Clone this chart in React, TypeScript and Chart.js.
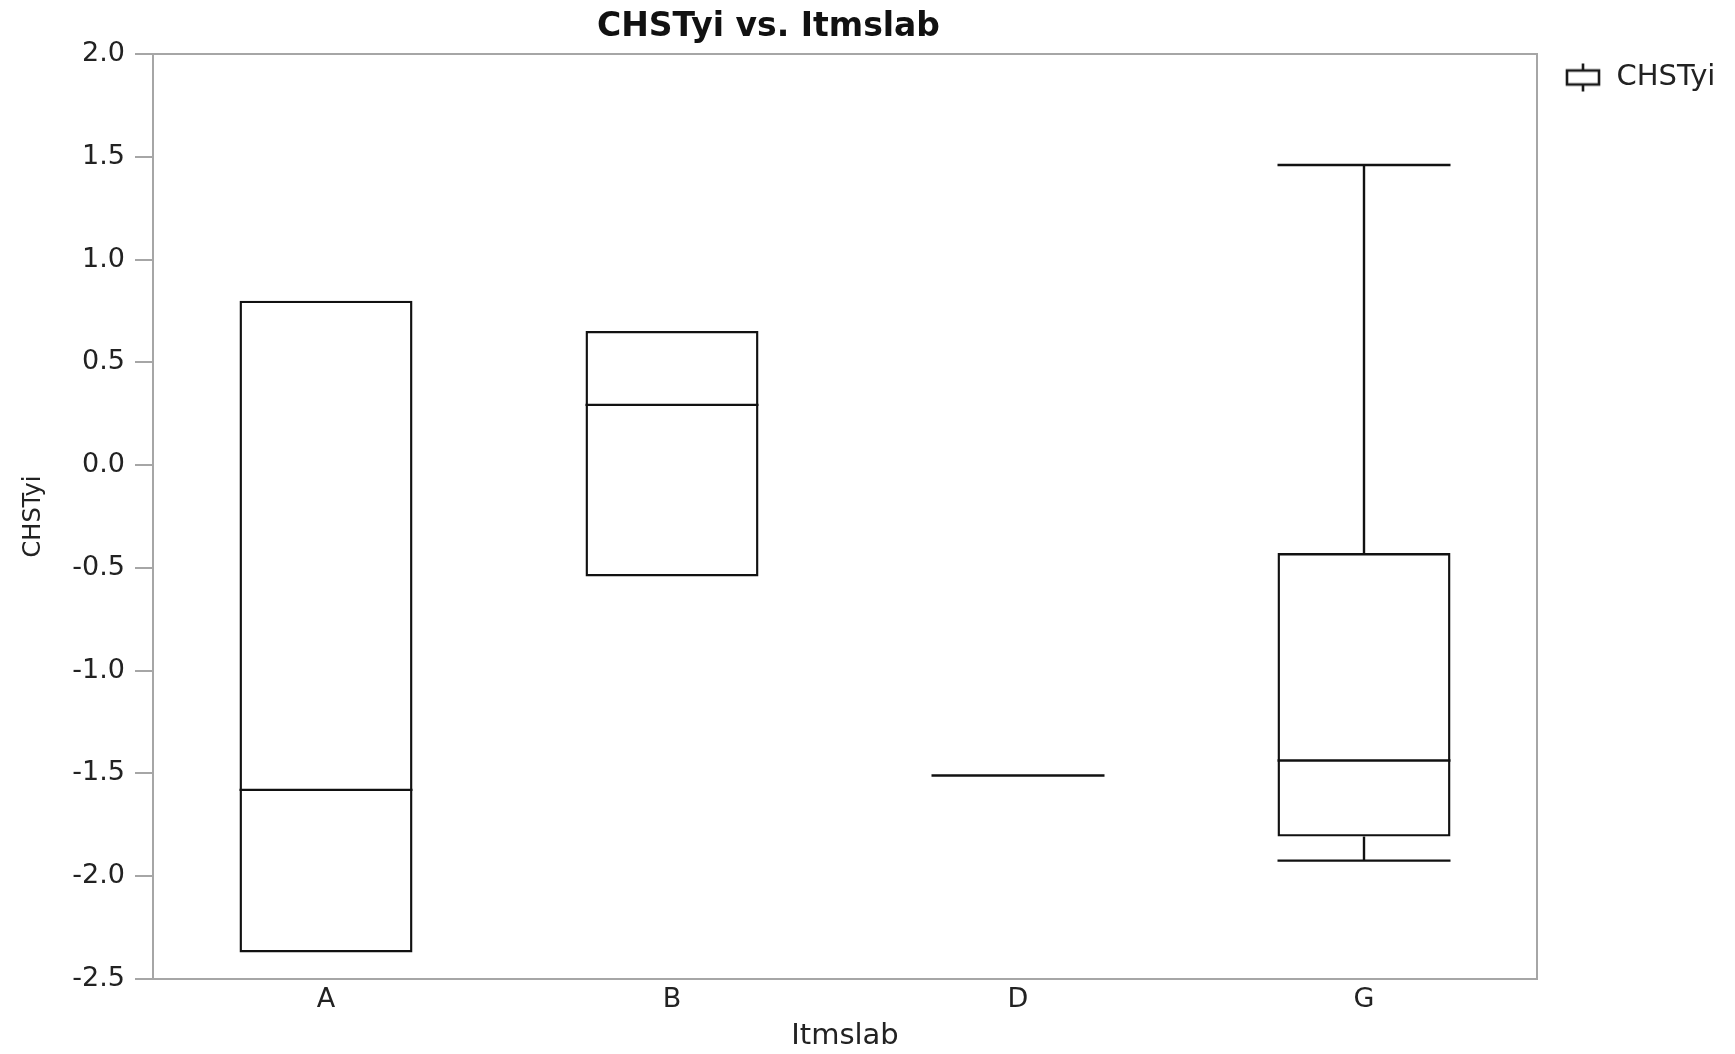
import React, { useEffect, useRef } from "react";
import { Chart, registerables } from "chart.js";

Chart.register(...registerables);

// ---- data ----
const categories = ["A", "B", "D", "G"];
const q1Values = [-2.371, -0.542, -1.51, -1.807];
const medianValues = [-1.58, 0.293, -1.51, -1.437];
const q3Values = [0.8, 0.653, -1.51, -0.428];
const whiskerLowValues = [-2.371, -0.542, -1.51, -1.924];
const whiskerHighValues = [0.8, 0.653, -1.51, 1.46];

const seriesName = "CHSTyi";
const chartTitle = "CHSTyi vs. Itmslab";
const xAxisTitle = "Itmslab";
const yAxisTitle = "CHSTyi";
const yMin = -2.5;
const yMax = 2.0;
const yStep = 0.5;

// ---- styles ----
const W = 1735;
const H = 1054;
const FONT = '"DejaVu Sans"';
const AXIS_COLOR = "#a6a6a6";
const BOX_COLOR = "#111111";
const TEXT_COLOR = "#222222";
const LINE_W = 2.4;
const LEGEND_FONT_SIZE = 29;
const LEGEND_PAD = 9;
const LEGEND_BOX_W = 56;
const PLOT_RIGHT = 1537;

function makeLegendIcon(): HTMLCanvasElement {
  const c = document.createElement("canvas");
  c.width = 60;
  c.height = 34;
  const g = c.getContext("2d")!;
  g.strokeStyle = "#1a1a1a";
  g.lineWidth = 2.6;
  const cx = 39;
  const cy = 17;
  g.strokeRect(cx - 16, cy - 7, 32, 14);
  g.beginPath();
  g.moveTo(cx, cy - 7);
  g.lineTo(cx, cy - 14);
  g.moveTo(cx, cy + 7);
  g.lineTo(cx, cy + 14);
  g.stroke();
  return c;
}

const boxPlotPlugin = {
  id: "boxPlotExtras",
  beforeDatasetsDraw(chart: any) {
    const { ctx, chartArea } = chart;
    ctx.save();
    ctx.strokeStyle = AXIS_COLOR;
    ctx.lineWidth = 2;
    ctx.beginPath();
    ctx.moveTo(chartArea.left, chartArea.top);
    ctx.lineTo(chartArea.right, chartArea.top);
    ctx.lineTo(chartArea.right, chartArea.bottom);
    ctx.stroke();
    ctx.restore();
  },
  afterDatasetsDraw(chart: any) {
    const { ctx } = chart;
    const xs = chart.scales.x;
    const ys = chart.scales.y;
    const spacing = xs.getPixelForValue(1) - xs.getPixelForValue(0);
    const half = spacing * 0.25;
    ctx.save();
    ctx.strokeStyle = BOX_COLOR;
    ctx.lineWidth = LINE_W;
    categories.forEach((_, i) => {
      const cx = xs.getPixelForValue(i);
      const hLine = (v: number) => {
        const y = ys.getPixelForValue(v);
        ctx.beginPath();
        ctx.moveTo(cx - half, y);
        ctx.lineTo(cx + half, y);
        ctx.stroke();
      };
      const vLine = (a: number, b: number) => {
        ctx.beginPath();
        ctx.moveTo(cx, ys.getPixelForValue(a));
        ctx.lineTo(cx, ys.getPixelForValue(b));
        ctx.stroke();
      };
      hLine(medianValues[i]);
      if (whiskerHighValues[i] > q3Values[i]) {
        vLine(q3Values[i], whiskerHighValues[i]);
        hLine(whiskerHighValues[i]);
      }
      if (whiskerLowValues[i] < q1Values[i]) {
        vLine(q1Values[i], whiskerLowValues[i]);
        hLine(whiskerLowValues[i]);
      }
    });
    ctx.restore();
  },
  afterDraw(chart: any) {
    const { ctx, chartArea } = chart;
    ctx.save();
    ctx.font = `bold 33px ${FONT}`;
    ctx.fillStyle = "#111";
    ctx.textAlign = "center";
    ctx.textBaseline = "middle";
    const left = chart.scales.y.left;
    ctx.fillText(chartTitle, (left + chartArea.right) / 2, chartArea.top / 2);
    ctx.restore();
  },
};

export default function App() {
  const ref = useRef<HTMLCanvasElement | null>(null);

  useEffect(() => {
    document.body.style.margin = "0";
    document.body.style.overflow = "hidden";
    const canvas = ref.current;
    if (!canvas) return;

    const m = document.createElement("canvas").getContext("2d")!;
    m.font = `${LEGEND_FONT_SIZE}px ${FONT}`;
    const tw = m.measureText(seriesName).width;
    const legendWidth = LEGEND_PAD + LEGEND_BOX_W + LEGEND_FONT_SIZE / 2 + tw + 10;
    const padRight = Math.max(0, W - PLOT_RIGHT - legendWidth);

    const icon = makeLegendIcon();

    const chart = new Chart(canvas, {
      type: "bar",
      data: {
        labels: categories,
        datasets: [
          {
            label: seriesName,
            data: categories.map((_, i) =>
              q1Values[i] === q3Values[i] ? null : [q1Values[i], q3Values[i]]
            ) as any,
            backgroundColor: "rgba(0,0,0,0)",
            borderColor: BOX_COLOR,
            borderWidth: LINE_W,
            borderSkipped: false,
            barPercentage: 0.5,
            categoryPercentage: 1.0,
          },
        ],
      },
      options: {
        responsive: false,
        animation: false,
        devicePixelRatio: 1,
        layout: { padding: { top: 54, left: 0, bottom: 0, right: padRight } },
        plugins: {
          tooltip: { enabled: false },
          title: { display: false },
          legend: {
            display: true,
            position: "right",
            align: "start",
            fullSize: false,
            labels: {
              usePointStyle: true,
              pointStyle: icon as any,
              pointStyleWidth: LEGEND_BOX_W,
              padding: LEGEND_PAD,
              color: TEXT_COLOR,
              font: { family: FONT, size: LEGEND_FONT_SIZE },
            },
          },
        },
        scales: {
          x: {
            type: "category",
            offset: true,
            grid: { display: false },
            border: { display: true, color: AXIS_COLOR, width: 2 },
            ticks: {
              color: TEXT_COLOR,
              padding: -3,
              font: { family: FONT, size: 27 },
            },
            title: {
              display: true,
              text: xAxisTitle,
              color: TEXT_COLOR,
              font: { family: FONT, size: 29 },
              padding: { top: 0, bottom: 0 },
            },
            afterFit: (s: any) => {
              s.height = 75;
            },
          },
          y: {
            type: "linear",
            min: yMin,
            max: yMax,
            ticks: {
              stepSize: yStep,
              color: TEXT_COLOR,
              padding: 10,
              font: { family: FONT, size: 27 },
              callback: (v: any) => Number(v).toFixed(1),
            },
            grid: {
              display: true,
              drawOnChartArea: false,
              drawTicks: true,
              tickLength: 18,
              color: AXIS_COLOR,
              lineWidth: 2,
            },
            border: { display: true, color: AXIS_COLOR, width: 2 },
            title: {
              display: true,
              text: yAxisTitle,
              color: TEXT_COLOR,
              font: { family: FONT, size: 24 },
              padding: { top: 19, bottom: 0 },
            },
            afterFit: (s: any) => {
              s.width = 153;
            },
          },
        },
      },
      plugins: [boxPlotPlugin],
    });

    return () => chart.destroy();
  }, []);

  return (
    <div style={{ width: W, height: H, background: "#fff" }}>
      <canvas ref={ref} width={W} height={H} style={{ display: "block" }} />
    </div>
  );
}
